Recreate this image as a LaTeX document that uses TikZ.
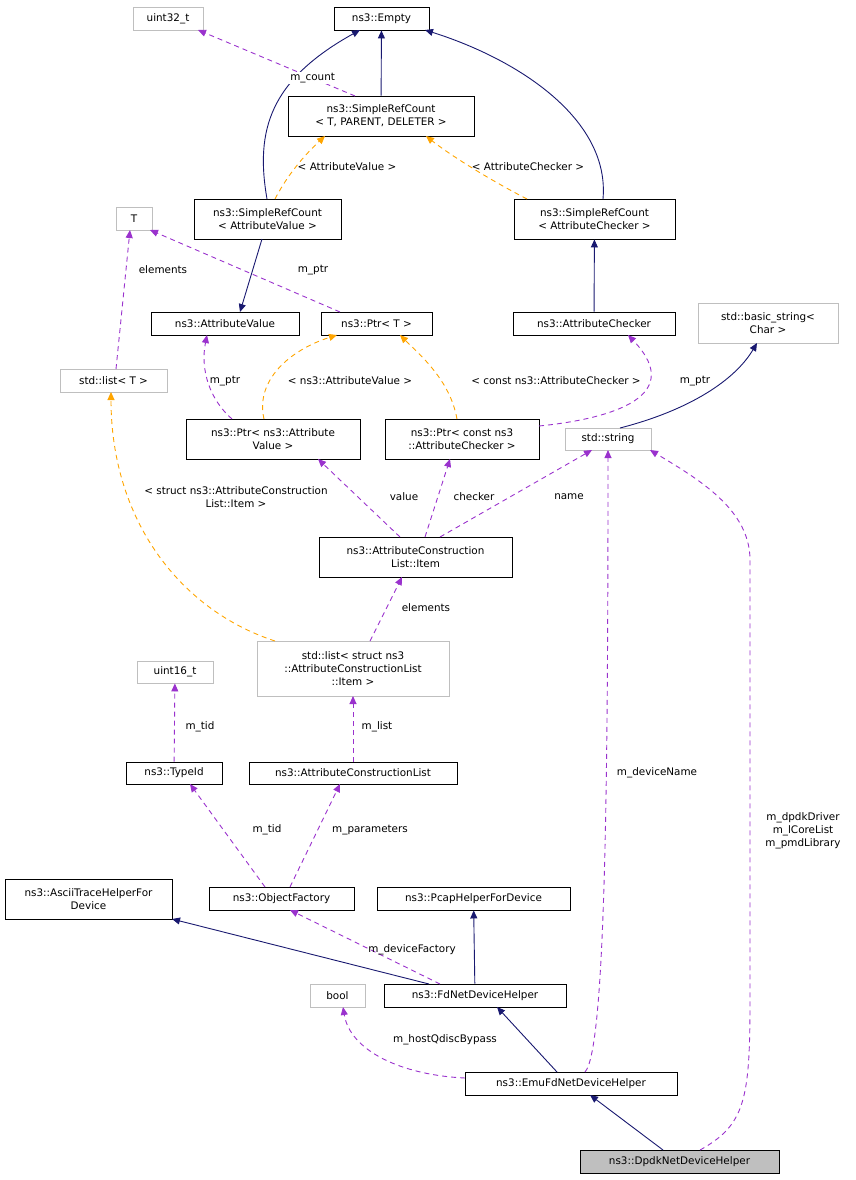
\documentclass[tikz,border=0pt]{standalone}
\usepackage{fontspec}
\setmainfont{DejaVu Sans}
\usetikzlibrary{arrows.meta}
\definecolor{nav}{HTML}{191970}
\definecolor{pur}{HTML}{9A32CD}
\definecolor{org}{HTML}{FFA500}
\definecolor{gr}{HTML}{BFBFBF}
\begin{document}
\begin{tikzpicture}[x=1pt,y=-1pt,
 every node/.style={font=\fontsize{10.4}{13}\selectfont},
 b/.style={draw=black,line width=0.9pt,inner sep=0pt,align=center,fill=white},
 g/.style={draw=gr,line width=0.9pt,inner sep=0pt,align=center,fill=white},
 inh/.style={draw=nav,line width=0.9pt,-{Triangle[length=8pt,width=7pt]}},
 use/.style={draw=pur,line width=0.9pt,dash pattern=on 5pt off 4pt,-{Triangle[length=8pt,width=7pt]}},
 tpl/.style={draw=org,line width=0.9pt,dash pattern=on 5pt off 4pt,-{Triangle[length=8pt,width=7pt]}},
 lab/.style={inner sep=1pt,align=center}]
\useasboundingbox (0,0) rectangle (855,1180);
\def\bx#1#2#3#4#5#6#7{\node[#1,minimum width=#5,minimum height=#6] (#2) at (#3,#4) {#7};}
\bx{g}{u32}{168}{18.5}{70}{23}{uint32\_t}
\bx{b}{empty}{381.5}{18.5}{95}{23}{ns3::Empty}
\bx{b}{srcT}{381}{116}{186}{40}{ns3::SimpleRefCount\\< T, PARENT, DELETER >}
\bx{b}{srcAV}{267.5}{219}{147}{40}{ns3::SimpleRefCount\\< AttributeValue >}
\bx{b}{srcAC}{594.5}{219}{161}{40}{ns3::SimpleRefCount\\< AttributeChecker >}
\bx{g}{T}{134}{218.5}{36}{23}{T}
\bx{b}{av}{225}{323.5}{148}{23}{ns3::AttributeValue}
\bx{b}{ptrT}{376.5}{323.5}{111}{23}{ns3::Ptr< T >}
\bx{b}{ac}{594}{323.5}{162}{23}{ns3::AttributeChecker}
\bx{g}{bstr}{768}{323}{140}{40}{std::basic\_string<\\Char >}
\bx{g}{listT}{113.5}{380.5}{107}{23}{std::list< T >}
\bx{b}{ptrAV}{273}{439}{174}{40}{ns3::Ptr< ns3::Attribute\\Value >}
\bx{b}{ptrAC}{462}{439}{154}{40}{ns3::Ptr< const ns3\\::AttributeChecker >}
\bx{g}{str}{608}{439}{86}{22}{std::string}
\bx{b}{item}{415.5}{557}{193}{40}{ns3::AttributeConstruction\\List::Item}
\bx{g}{listS}{353}{668.5}{192}{55}{std::list< struct ns3\\::AttributeConstructionList\\::Item >}
\bx{g}{u16}{175}{672}{76}{22}{uint16\_t}
\bx{b}{tid}{174}{773}{96}{22}{ns3::TypeId}
\bx{b}{acl}{353}{773}{208}{22}{ns3::AttributeConstructionList}
\bx{b}{ascii}{88.5}{899}{167}{40}{ns3::AsciiTraceHelperFor\\Device}
\bx{b}{of}{281.5}{898.5}{145}{23}{ns3::ObjectFactory}
\bx{b}{pcap}{473.5}{898.5}{193}{23}{ns3::PcapHelperForDevice}
\bx{g}{bool}{337.5}{995.5}{55}{23}{bool}
\bx{b}{fd}{475}{995.5}{182}{23}{ns3::FdNetDeviceHelper}
\bx{b}{emu}{571}{1083.5}{212}{23}{ns3::EmuFdNetDeviceHelper}
\node[draw=black,line width=0.9pt,fill=gr,inner sep=0pt,minimum width=199,minimum height=23] (dpdk) at (679.5,1161.5) {ns3::DpdkNetDeviceHelper};
% inheritance
\draw[inh] (srcT) -- (empty);
\draw[inh] (267,199) .. controls (255,130) and (270,80) .. (360,30);
\draw[inh] (603,199) .. controls (610,120) and (520,60) .. (425,30);
\draw[inh] (262,239) -- (240,312);
\draw[inh] (ac) -- (srcAC);
\draw[inh] (620,428) .. controls (690,410) and (735,380) .. (757,343);
\draw[inh] (429,984) -- (172,919);
\draw[inh] (fd) -- (pcap);
\draw[inh] (557,1072) -- (497,1007);
\draw[inh] (663,1150) -- (590,1095);
% usage
\draw[use] (355,96) -- node[lab,pos=0.27,fill=white]{m\_count} (198,30);
\draw[use] (340,312) -- (150,230);
\node[lab] at (313,270) {m\_ptr};
\draw[use] (116,369) -- (130,230);
\node[lab] at (163,270) {elements};
\draw[use] (232,419) .. controls (210,400) and (200,370) .. (207,335);
\node[lab] at (225,381) {m\_ptr};
\draw[use] (539,426) .. controls (600,420) and (690,400) .. (628,335);
\node[lab] at (695,381) {m\_ptr};
\draw[use] (400,537) -- (318,459);
\node[lab] at (404,497) {value};
\draw[use] (425,537) -- (450,459);
\node[lab] at (474,497) {checker};
\draw[use] (440,537) -- (592,450);
\node[lab] at (569,497) {name};
\draw[use] (370,641) -- (402,577);
\node[lab] at (426,608) {elements};
\draw[use] (353,762) -- (353,696);
\node[lab] at (377,727) {m\_list};
\draw[use] (tid) -- (u16);
\node[lab] at (200,727) {m\_tid};
\draw[use] (265,887) -- (190,784);
\node[lab] at (267,830) {m\_tid};
\draw[use] (290,887) -- (340,784);
\node[lab] at (370,830) {m\_parameters};
\draw[use] (440,984) -- (290,910);
\node[lab] at (412,950) {m\_deviceFactory};
\draw[use] (465,1078) .. controls (400,1075) and (350,1050) .. (343,1007);
\node[lab] at (445,1040) {m\_hostQdiscBypass};
\draw[use] (585,1072) .. controls (605,1050) and (608,800) .. (608,450);
\node[lab] at (657,773) {m\_deviceName};
\draw[use] (700,1150) .. controls (745,1125) and (750,1100) .. (750,1000) -- (750,560) .. controls (750,510) and (700,480) .. (650,450);
\node[lab] at (803,831) {m\_dpdkDriver\\m\_lCoreList\\m\_pmdLibrary};
% templates
\draw[tpl] (275,199) .. controls (290,170) and (310,150) .. (325,136);
\node[lab] at (347,167) {< AttributeValue >};
\draw[tpl] (527,199) .. controls (490,180) and (450,155) .. (426,136);
\node[lab] at (528,167) {< AttributeChecker >};
\draw[tpl] (264,419) .. controls (255,380) and (290,350) .. (337,335);
\node[lab] at (350,381) {< ns3::AttributeValue >};
\draw[tpl] (457,419) .. controls (450,380) and (420,355) .. (400,335);
\node[lab] at (556,381) {< const ns3::AttributeChecker >};
\draw[tpl] (275,641) .. controls (180,610) and (111,520) .. (111,392);
\node[lab] at (236,497) {< struct ns3::AttributeConstruction\\List::Item >};
\end{tikzpicture}
\end{document}
